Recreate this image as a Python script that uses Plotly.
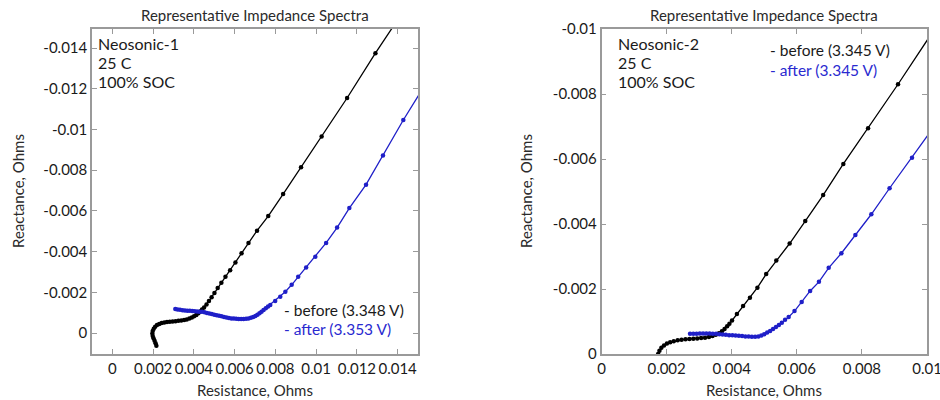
import plotly.graph_objects as go

# ---------------- data ----------------
n1_before_x = [0.00216, 0.00212, 0.00207, 0.00202, 0.00198, 0.00196, 0.00198, 0.00203, 0.00210, 0.00219,
               0.00230, 0.00242, 0.00255, 0.00268, 0.00282, 0.00296, 0.00310, 0.00324, 0.00338, 0.00352,
               0.00365, 0.00378, 0.00390, 0.00401, 0.00412, 0.00422, 0.00431, 0.00440,
               0.00450, 0.00462, 0.00474, 0.00487, 0.00501, 0.00517, 0.00535, 0.00555, 0.00578, 0.00604,
               0.00634, 0.00668, 0.00710, 0.00765, 0.00838, 0.00926, 0.01027, 0.01152, 0.01291, 0.01460]
n1_before_y = [0.00062, 0.00050, 0.00038, 0.00026, 0.00014, 0.00002, -0.00010, -0.00021, -0.00031, -0.00039,
               -0.00045, -0.00049, -0.00052, -0.00054, -0.00056, -0.00057, -0.00058, -0.00060, -0.00062, -0.00064,
               -0.00067, -0.00071, -0.00076, -0.00082, -0.00089, -0.00097, -0.00106, -0.00116,
               -0.00125, -0.00140, -0.00157, -0.00176, -0.00197, -0.00221, -0.00247, -0.00276, -0.00309, -0.00347,
               -0.00392, -0.00442, -0.00503, -0.00575, -0.00683, -0.00815, -0.00966, -0.01155, -0.01375, -0.01630]

n1_after_x = [0.00309, 0.00320, 0.00332, 0.00344, 0.00356, 0.00368, 0.00380, 0.00392, 0.00404, 0.00416,
              0.00428, 0.00440, 0.00452, 0.00464, 0.00476, 0.00488, 0.00500, 0.00512, 0.00524, 0.00536,
              0.00548, 0.00560, 0.00572, 0.00584, 0.00596, 0.00608, 0.00620, 0.00632, 0.00644, 0.00656,
              0.00668, 0.00680, 0.00691, 0.00702, 0.00712, 0.00722, 0.00732, 0.00742, 0.00753, 0.00764,
              0.00775, 0.00799, 0.00824, 0.00849, 0.00880, 0.00912, 0.00951, 0.00996, 0.01049, 0.01103,
              0.01163, 0.01245, 0.01328, 0.01428, 0.01560]
n1_after_y = [-0.00118, -0.00116, -0.00114, -0.00112, -0.00111, -0.00110, -0.00109, -0.00108, -0.00107, -0.00106,
              -0.00105, -0.00104, -0.00102, -0.00099, -0.00096, -0.00093, -0.00090, -0.00088, -0.00085, -0.00082,
              -0.00079, -0.00076, -0.00074, -0.00072, -0.00071, -0.00070, -0.00069, -0.00069, -0.00069, -0.00070,
              -0.00072, -0.00075, -0.00079, -0.00084, -0.00090, -0.00097, -0.00105, -0.00113, -0.00122, -0.00131,
              -0.00138, -0.00158, -0.00178, -0.00203, -0.00237, -0.00276, -0.00322, -0.00375, -0.00443, -0.00518,
              -0.00614, -0.00729, -0.00872, -0.01047, -0.01260]

n2_before_x = [0.00174, 0.00178, 0.00184, 0.00192, 0.00201, 0.00211, 0.00222, 0.00234, 0.00246, 0.00258,
               0.00270, 0.00282, 0.00294, 0.00306, 0.00318, 0.00330, 0.00341, 0.00351, 0.00361, 0.00370,
               0.00378, 0.00386, 0.00393,
               0.00401, 0.00416, 0.00435, 0.00456, 0.00479, 0.00506, 0.00537, 0.00578, 0.00626, 0.00681,
               0.00743, 0.00819, 0.00911, 0.01030]
n2_before_y = [0.00000, -0.00010, -0.00019, -0.00026, -0.00032, -0.00036, -0.00039, -0.00042, -0.00044, -0.00045,
               -0.00046, -0.00047, -0.00048, -0.00049, -0.00050, -0.00052, -0.00055, -0.00059, -0.00064, -0.00070,
               -0.00077, -0.00085, -0.00093,
               -0.00103, -0.00123, -0.00148, -0.00173, -0.00204, -0.00246, -0.00288, -0.00340, -0.00409, -0.00489,
               -0.00585, -0.00695, -0.00830, -0.01010]

n2_after_x = [0.00272, 0.00282, 0.00292, 0.00302, 0.00312, 0.00322, 0.00332, 0.00342, 0.00352, 0.00362,
              0.00372, 0.00382, 0.00392, 0.00402, 0.00412, 0.00422, 0.00432, 0.00442, 0.00452, 0.00462,
              0.00472, 0.00482, 0.00491, 0.00500, 0.00509, 0.00518, 0.00527, 0.00536, 0.00545,
              0.00554, 0.00564, 0.00575, 0.00593, 0.00615, 0.00641, 0.00668, 0.00698, 0.00737, 0.00780,
              0.00829, 0.00885, 0.00954, 0.01040]
n2_after_y = [-0.00062, -0.00062, -0.00062, -0.00063, -0.00063, -0.00063, -0.00063, -0.00062, -0.00062, -0.00061,
              -0.00060, -0.00059, -0.00058, -0.00058, -0.00057, -0.00056, -0.00055, -0.00054, -0.00054, -0.00053,
              -0.00053, -0.00054, -0.00057, -0.00061, -0.00066, -0.00071, -0.00077, -0.00083, -0.00089,
              -0.00096, -0.00105, -0.00114, -0.00132, -0.00160, -0.00194, -0.00222, -0.00265, -0.00310, -0.00366,
              -0.00430, -0.00510, -0.00604, -0.00725]

left_x_tickvals = [0, 0.002, 0.004, 0.006, 0.008, 0.010, 0.012, 0.014]
left_x_ticktext = ["0", "0.002", "0.004", "0.006", "0.008", "0.01", "0.012", "0.014"]
left_y_tickvals = [0, -0.002, -0.004, -0.006, -0.008, -0.010, -0.012, -0.014]
left_y_ticktext = ["0", "-0.002", "-0.004", "-0.006", "-0.008", "-0.01", "-0.012", "-0.014"]
right_x_tickvals = [0, 0.002, 0.004, 0.006, 0.008, 0.010]
right_x_ticktext = ["0", "0.002", "0.004", "0.006", "0.008", "0.01"]
right_y_tickvals = [0, -0.002, -0.004, -0.006, -0.008, -0.010]
right_y_ticktext = ["0", "-0.002", "-0.004", "-0.006", "-0.008", "-0.01"]

chart_title = "Representative Impedance Spectra"
x_title = "Resistance, Ohms"
y_title = "Reactance, Ohms"
left_info = ["Neosonic-1", "25 C", "100% SOC"]
right_info = ["Neosonic-2", "25 C", "100% SOC"]
left_legend = ["- before (3.348 V)", "- after (3.353 V)"]
right_legend = ["- before (3.345 V)", "- after (3.345 V)"]

# ---------------- styling ----------------
W, H = 940, 400
FONT = "Lato"
BLACK = "#000000"
BLUE = "#1f1fc8"
TEXT_BLUE = "#2a2ad0"
AXIS_GRAY = "#9a9a9a"
TXT = "#1a1a1a"

def px(xp):
    return xp / W

def py(yp):
    return 1 - yp / H

fig = go.Figure()

def add_series(x, y, color, xa, ya):
    fig.add_trace(go.Scatter(
        x=x, y=y, mode="lines+markers", xaxis=xa, yaxis=ya,
        line=dict(color=color, width=1.3),
        marker=dict(color=color, size=4.5, symbol="circle"),
        showlegend=False, hoverinfo="skip"))

add_series(n1_before_x, n1_before_y, BLACK, "x", "y")
add_series(n1_after_x, n1_after_y, BLUE, "x", "y")
add_series(n2_before_x, n2_before_y, BLACK, "x2", "y2")
add_series(n2_after_x, n2_after_y, BLUE, "x2", "y2")

axis_common = dict(
    showline=True, linecolor=AXIS_GRAY, linewidth=1.5, mirror="ticks",
    ticks="inside", ticklen=5, tickcolor=AXIS_GRAY, tickwidth=1,
    showgrid=False, zeroline=False, tickangle=0, automargin=False,
    ticklabeloverflow="allow",
    tickfont=dict(family=FONT, size=15, color=TXT),
    tickmode="array", fixedrange=True,
)

ydom = [py(354), py(29)]
fig.update_layout(
    width=W, height=H,
    margin=dict(l=0, r=0, t=0, b=0, autoexpand=False),
    paper_bgcolor="white", plot_bgcolor="white",
    font=dict(family=FONT, size=15, color=TXT),
    xaxis=dict(domain=[px(92), px(418)], range=[-0.001, 0.015],
               tickvals=left_x_tickvals, ticktext=left_x_ticktext, anchor="y", **axis_common),
    yaxis=dict(domain=ydom, range=[0.00103, -0.01494],
               tickvals=left_y_tickvals, ticktext=left_y_ticktext, anchor="x", **axis_common),
    xaxis2=dict(domain=[px(601.5), px(927)], range=[-0.0000001, 0.0100001],
                tickvals=right_x_tickvals, ticktext=right_x_ticktext, anchor="y2", **axis_common),
    yaxis2=dict(domain=ydom, range=[0.0000001, -0.0100001],
                tickvals=right_y_tickvals, ticktext=right_y_ticktext, anchor="x2", **axis_common),
)

ann = []
def text(xp, yp, s, size=15, color=TXT, xanchor="center", angle=0):
    ann.append(dict(xref="paper", yref="paper", x=px(xp), y=py(yp), text=s,
                    showarrow=False, xanchor=xanchor, yanchor="middle", textangle=angle,
                    font=dict(family=FONT, size=size, color=color)))

# titles
text(255, 15, chart_title, size=15, color="#2a2a2a")
text(764, 15, chart_title, size=15, color="#2a2a2a")
# axis titles
text(255, 390, x_title, size=15, color="#2a2a2a")
text(764, 390, x_title, size=15, color="#2a2a2a")
text(18, 191, y_title, size=15, color="#2a2a2a", angle=-90)
text(526, 191, y_title, size=15, color="#2a2a2a", angle=-90)
# info blocks
for i, s in enumerate(left_info):
    text(96, 43 + i * 19, s, size=16, xanchor="left")
for i, s in enumerate(right_info):
    text(616, 43 + i * 19.5, s, size=16, xanchor="left")
# legends
text(282, 310, left_legend[0], size=15.5, xanchor="left")
text(282, 329, left_legend[1], size=15.5, color=TEXT_BLUE, xanchor="left")
text(768, 50, right_legend[0], size=15.5, xanchor="left")
text(768, 70, right_legend[1], size=15.5, color=TEXT_BLUE, xanchor="left")

fig.update_layout(annotations=ann)
fig.write_html("out.html")
